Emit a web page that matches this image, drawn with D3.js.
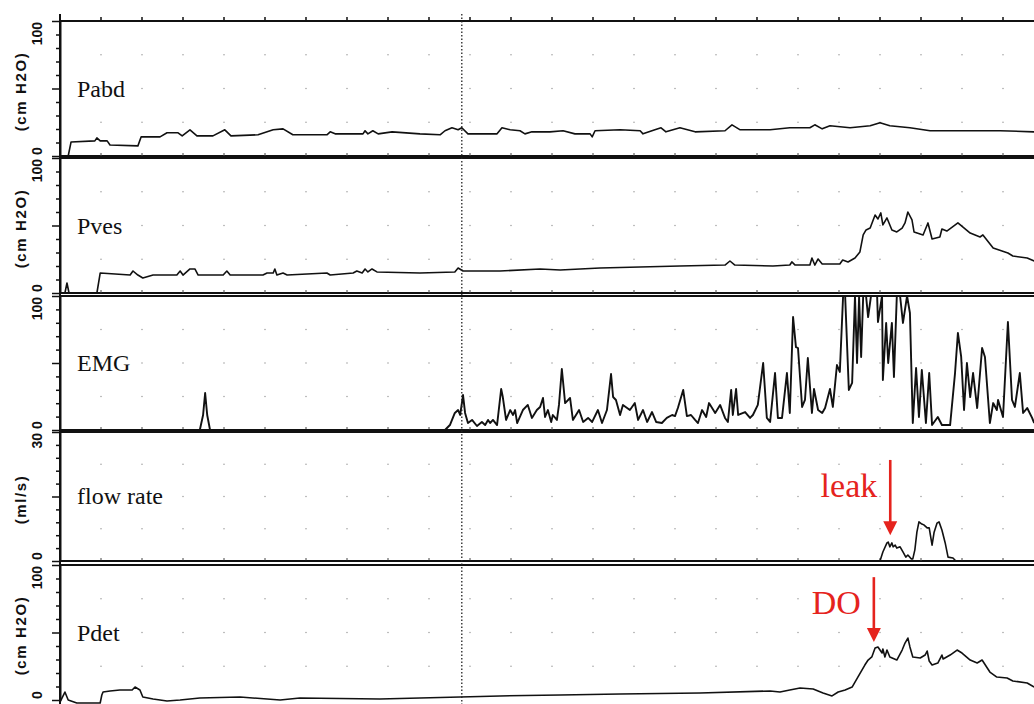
<!DOCTYPE html>
<html>
<head>
<meta charset="utf-8">
<script src="https://cdn.jsdelivr.net/npm/d3@7"></script>
<style>
  body { margin: 0; background: #fff; }
  svg { display: block; }
</style>
</head>
<body>
<script>
// traces, [time (s), value]
const pabdData = [[0,0],[2.0,0],[2.7,10.4],[8.5,11.2],[9.0,13.4],[9.8,11.2],[11.5,11.2],[12.2,8.2],[19.0,7.5],[19.8,14.2],[24.4,14.2],[26.1,17.2],[28.8,17.2],[29.8,14.9],[31.7,19.4],[33.4,14.9],[37.3,14.9],[40.2,19.4],[41.7,14.9],[48.3,15.7],[52.0,19.4],[54.4,20.1],[56.8,15.7],[65.1,15.7],[65.9,17.9],[67.1,16.4],[73.9,16.4],[74.4,18.7],[75.1,16.4],[76.3,18.7],[77.6,16.4],[81.0,17.9],[87.8,16.4],[92.7,15.7],[93.9,18.7],[95.6,20.9],[97.1,19.4],[98.0,20.9],[99.5,16.4],[106.6,16.4],[107.8,20.9],[109.8,19.4],[112.2,18.7],[113.4,16.4],[115.1,17.9],[119.5,17.9],[122.7,18.7],[125.6,16.4],[129.3,16.4],[129.8,14.2],[130.5,18.7],[136.6,19.4],[141.5,18.7],[142.2,16.4],[145.1,19.4],[146.6,20.9],[147.8,17.9],[151.2,20.9],[154.9,17.9],[162.2,18.7],[163.9,23.1],[165.9,19.4],[173.2,19.4],[178.0,20.9],[182.9,20.9],[184.1,23.1],[185.9,20.1],[187.8,22.4],[192.7,20.9],[197.6,22.4],[200.0,24.6],[202.4,22.4],[207.3,20.9],[212.2,18.7],[229.3,18.7],[237.6,17.9]];

const pvesData = [[0,0],[1.2,0],[1.7,7.4],[2.2,0],[9.0,0],[9.8,14.8],[17.1,13.3],[17.8,16.3],[19.0,13.3],[20.2,11.1],[22.7,13.3],[28.5,13.3],[29.3,16.3],[30.0,13.3],[31.7,17.8],[32.9,17.8],[33.7,13.3],[39.8,13.3],[40.7,16.3],[41.5,13.3],[49.5,13.3],[50.5,14.8],[52.0,14.8],[52.4,17.8],[52.9,13.3],[54.4,14.8],[55.4,13.3],[65.1,14.8],[65.9,13.3],[71.5,14.8],[72.4,16.3],[73.7,14.8],[74.4,17.8],[75.1,15.6],[76.1,17.8],[77.3,15.6],[87.8,14.8],[96.3,15.6],[97.1,18.5],[98.3,16.3],[107.3,16.3],[117.1,17.8],[122.0,17.0],[131.7,18.5],[151.2,20.0],[162.2,20.7],[163.4,23.7],[164.6,20.7],[173.9,20.0],[178.0,20.7],[178.5,23.0],[179.3,20.7],[182.9,20.7],[183.4,25.9],[184.1,20.7],[184.9,25.2],[185.9,21.5],[190.2,21.5],[190.9,24.4],[192.2,23.0],[193.9,25.9],[195.1,30.4],[195.9,43.0],[196.6,46.7],[197.6,48.1],[198.8,57.8],[199.5,54.8],[200.2,59.3],[200.7,50.4],[201.7,55.6],[202.9,46.7],[204.1,45.2],[205.4,48.1],[206.1,51.9],[206.8,60.0],[207.8,54.1],[208.3,45.2],[210.5,43.0],[211.7,51.9],[212.7,40.0],[214.6,41.5],[215.1,47.4],[216.3,45.9],[219.0,51.9],[222.0,44.4],[224.4,41.5],[225.1,43.0],[227.6,33.3],[231.2,29.6],[232.4,27.4],[235.9,25.9],[237.6,23.7]];

const emgData = [[0,0],[34.1,0],[34.9,11.2],[35.4,27.6],[35.9,11.2],[36.6,0],[93.9,0],[95.1,3.7],[96.3,12.7],[97.1,14.9],[97.6,11.2],[98.3,26.1],[98.8,12.7],[99.5,5.2],[100.5,7.5],[101.7,3.0],[102.9,6.0],[103.7,3.7],[104.4,7.5],[104.9,5.2],[105.6,7.5],[106.6,3.7],[107.6,30.6],[108.0,24.6],[108.8,7.5],[109.8,14.9],[110.5,11.2],[111.0,14.9],[111.5,5.2],[112.9,14.9],[114.1,18.7],[115.1,9.0],[116.3,14.9],[117.1,17.2],[117.8,23.9],[118.3,9.7],[119.0,14.9],[119.8,6.0],[120.2,11.2],[121.2,7.5],[121.7,18.7],[122.4,45.5],[123.2,20.1],[124.4,23.9],[125.1,7.5],[126.6,14.9],[127.6,6.0],[128.8,9.0],[129.8,6.0],[131.2,14.9],[132.2,5.2],[133.4,14.9],[134.4,41.8],[134.9,24.6],[135.6,22.4],[136.6,11.2],[137.3,18.7],[139.0,14.9],[140.2,20.1],[141.0,7.5],[142.2,14.9],[143.2,6.0],[144.4,13.4],[145.4,6.0],[146.8,5.2],[148.0,9.0],[149.3,11.2],[150.0,10.4],[150.7,16.4],[152.0,29.9],[152.9,10.4],[153.9,11.2],[154.9,7.5],[155.6,5.2],[156.6,14.9],[157.6,9.7],[158.3,20.1],[159.8,12.7],[161.0,18.7],[162.2,9.0],[162.9,6.0],[163.7,29.9],[164.1,11.2],[164.9,30.6],[165.4,11.2],[167.1,13.4],[168.3,9.0],[169.0,11.2],[170.2,18.7],[171.5,50.0],[172.4,9.0],[173.2,6.0],[174.4,42.5],[175.1,9.0],[176.1,9.0],[177.3,42.5],[178.0,12.7],[178.8,84.3],[179.5,61.9],[180.0,61.2],[181.0,17.2],[181.7,22.4],[182.4,53.7],[183.4,12.7],[183.9,30.6],[184.9,14.9],[185.9,12.7],[186.6,16.4],[187.8,30.6],[188.5,17.2],[189.5,48.5],[190.2,43.3],[191.0,100],[191.5,100],[192.4,29.9],[193.2,35.1],[193.9,100],[194.4,50.0],[194.9,99.3],[195.4,54.5],[195.9,100],[196.6,100],[197.1,84.3],[197.8,100],[199.3,100],[199.5,80.6],[200.5,100],[200.7,37.3],[201.5,79.9],[202.0,50.0],[202.9,79.9],[203.4,39.6],[204.1,100],[204.9,100],[205.6,79.9],[206.6,100],[207.3,87.3],[208.0,5.2],[208.8,46.3],[209.5,9.7],[210.2,44.8],[211.2,5.2],[212.0,42.5],[212.7,3.7],[214.1,9.7],[215.1,3.7],[217.1,3.7],[218.3,42.5],[219.0,72.4],[219.8,54.5],[220.5,14.9],[221.2,50.0],[222.0,24.6],[222.7,42.5],[223.7,16.4],[224.9,61.2],[225.6,54.5],[226.8,5.2],[227.6,20.1],[228.5,14.9],[228.8,22.4],[230.0,9.7],[231.2,80.6],[232.2,22.4],[232.9,17.2],[234.1,42.5],[234.9,12.7],[235.9,16.4],[237.1,9.0],[237.6,5.2]];

const flowData = [[0,0],[200.0,0],[200.7,2.1],[201.7,4.2],[202.0,4.4],[202.4,3.3],[202.9,4.2],[203.2,3.3],[203.7,3.7],[204.1,3.0],[204.9,3.3],[205.6,2.1],[206.3,0.9],[206.8,1.4],[207.6,0.5],[208.0,0.5],[208.5,2.6],[209.0,6.7],[209.5,9.1],[210.2,8.6],[210.7,8.4],[211.5,7.7],[212.0,7.7],[212.7,3.7],[213.2,6.7],[213.9,8.8],[214.4,9.1],[215.1,7.2],[215.9,4.2],[216.6,0.9],[217.8,0.7],[218.5,0],[237.6,0]];

const pdetData = [[0,-1.5],[1.2,5.9],[2.0,0],[4.1,-2.2],[9.8,-2.2],[10.2,3.7],[10.5,5.9],[12.2,6.7],[14.6,7.4],[17.6,7.4],[18.3,9.6],[19.5,7.4],[20.2,2.2],[22.7,0.7],[26.1,-0.7],[29.3,0],[34.1,1.5],[43.9,2.2],[53.7,0],[58.5,1.5],[78.0,0.7],[97.6,2.2],[107.3,3.0],[122.0,3.7],[136.6,4.4],[156.1,5.2],[173.2,6.7],[175.6,5.9],[178.0,7.4],[180.5,8.9],[183.7,8.1],[186.1,5.2],[188.3,3.0],[189.8,5.9],[191.5,7.4],[193.2,9.6],[194.6,17.0],[196.3,25.9],[197.1,29.6],[198.0,31.9],[198.8,38.5],[199.5,39.3],[200.0,37.0],[200.5,34.8],[200.7,37.8],[201.2,31.9],[201.7,37.0],[202.4,31.9],[204.1,29.6],[205.4,37.0],[206.1,42.2],[206.8,45.9],[207.3,39.3],[208.0,31.9],[209.8,31.1],[211.0,33.3],[211.5,36.3],[212.0,28.9],[212.7,25.9],[214.1,27.4],[215.1,33.3],[215.4,30.4],[217.1,33.3],[218.8,37.0],[220.0,34.8],[222.0,29.6],[223.7,27.4],[224.9,29.6],[226.8,20.7],[228.5,17.0],[231.0,16.3],[232.4,14.1],[235.9,12.6],[237.6,9.6]];

const channelNames = ["Pabd", "Pves", "EMG", "flow rate", "Pdet"];
const channelUnits = ["(cm H2O)", "(cm H2O)", "", "(ml/s)", "(cm H2O)"];
const channelMax = [100, 100, 100, 30, 100];
const topLabels = ["100", "100", "100", "30", "100"];
const bottomLabels = ["0", "0", "0", "0", "0"];
const channelData = [pabdData, pvesData, emgData, flowData, pdetData];

const timeTicks = d3.range(0, 241, 10);
const markerTime = 98;   // dotted vertical marker
const notes = [
    {text: "leak", channel: 3, time: 202.5, from: 23.5, to: 6},
    {text: "DO", channel: 4, time: 198.5, from: 91, to: 43}
];

// layout
const width = 1034, height = 704;
const axisX = 60;
const bands = [[21, 156], [158, 293], [296, 430], [432, 561], [565, 700]];
const red = "#e5231d";
const sans = "'Liberation Sans', Arial, sans-serif";
const serif = "'Liberation Serif', 'Times New Roman', serif";

const svg = d3.select("body").append("svg")
    .attr("width", width)
    .attr("height", height);

svg.append("rect").attr("width", width).attr("height", height).attr("fill", "#fff");

const x = d3.scaleLinear().domain([0, 240]).range([axisX, axisX + 984]);

svg.append("defs").selectAll("clipPath")
    .data(bands)
    .join("clipPath")
    .attr("id", (d, i) => "clip" + i)
    .append("rect")
    .attr("x", axisX)
    .attr("y", d => d[0] - 3)
    .attr("width", width - axisX)
    .attr("height", d => d[1] - d[0] + 8);

channelNames.forEach((name, i) => {
    const [top, bottom] = bands[i];
    const y = d3.scaleLinear().domain([0, channelMax[i]]).range([bottom, top]);
    const g = svg.append("g");

    // faint dot grid
    const dots = [];
    timeTicks.forEach(t => [0.25, 0.5, 0.75].forEach(f => dots.push([t, f * channelMax[i]])));
    g.append("g").selectAll("circle")
        .data(dots)
        .join("circle")
        .attr("cx", d => x(d[0]))
        .attr("cy", d => y(d[1]))
        .attr("r", 0.8)
        .attr("fill", "#a5a5a5");

    // left axis, major ticks at 0, half and max
    const ax = g.append("g")
        .attr("transform", `translate(${axisX},0)`)
        .call(d3.axisLeft(y)
            .tickValues(d3.range(0, 11).map(k => k * channelMax[i] / 10))
            .tickSize(4)
            .tickSizeOuter(0)
            .tickFormat(""));
    ax.select(".domain").attr("stroke", "#111").attr("stroke-width", 2);
    ax.selectAll(".tick line")
        .attr("stroke", "#111")
        .attr("stroke-width", 1.5)
        .attr("x2", (d) => (d === 0 || d === channelMax[i] || d === channelMax[i] / 2) ? -8 : -4);

    // panel borders
    g.selectAll("line.border")
        .data(i === 4 ? [top] : [top, bottom])
        .join("line")
        .attr("class", "border")
        .attr("x1", axisX).attr("x2", width)
        .attr("y1", d => d).attr("y2", d => d)
        .attr("stroke", "#111")
        .attr("stroke-width", 2.2);

    // small time ticks along the bottom border
    if (i < 4) {
        g.append("g").selectAll("line")
            .data(timeTicks)
            .join("line")
            .attr("x1", d => x(d)).attr("x2", d => x(d))
            .attr("y1", bottom).attr("y2", bottom - 3)
            .attr("stroke", "#444")
            .attr("stroke-width", 1);
    }

    // trace
    const line = d3.line()
        .x(d => x(d[0]))
        .y(d => y(Math.min(d[1], channelMax[i])));
    g.append("path")
        .datum(channelData[i])
        .attr("clip-path", `url(#clip${i})`)
        .attr("d", line)
        .attr("fill", "none")
        .attr("stroke", "#111")
        .attr("stroke-width", i === 2 ? 1.9 : 1.6)
        .attr("stroke-linejoin", "round");

    // channel name
    g.append("text")
        .attr("x", 77)
        .attr("y", top + 0.56 * (bottom - top))
        .attr("font-family", serif)
        .attr("font-size", "24px")
        .attr("fill", "#111")
        .text(name);

    // rotated scale labels
    g.append("text")
        .attr("transform", `translate(42,${top + 1}) rotate(-90)`)
        .attr("text-anchor", "end")
        .attr("font-family", sans)
        .attr("font-weight", "bold")
        .attr("font-size", "14px")
        .attr("fill", "#111")
        .text(topLabels[i]);

    g.append("text")
        .attr("transform", `translate(42,${bottom - 1}) rotate(-90)`)
        .attr("text-anchor", "start")
        .attr("font-family", sans)
        .attr("font-weight", "bold")
        .attr("font-size", "14px")
        .attr("fill", "#111")
        .text(bottomLabels[i]);

    if (channelUnits[i]) {
        g.append("text")
            .attr("transform", `translate(26,${(top + bottom) / 2 + 3}) rotate(-90)`)
            .attr("text-anchor", "middle")
            .attr("font-family", sans)
            .attr("font-weight", "bold")
            .attr("font-size", "15px")
            .attr("letter-spacing", "1.6px")
            .attr("fill", "#111")
            .text(channelUnits[i]);
    }
});

// time ticks on the top border
svg.append("g").selectAll("line")
    .data(timeTicks)
    .join("line")
    .attr("x1", d => x(d)).attr("x2", d => x(d))
    .attr("y1", bands[0][0]).attr("y2", bands[0][0] - 4)
    .attr("stroke", "#111")
    .attr("stroke-width", 1.5);

// left axis running full height
svg.append("line")
    .attr("x1", axisX).attr("x2", axisX)
    .attr("y1", 14).attr("y2", height)
    .attr("stroke", "#111")
    .attr("stroke-width", 2);

// dotted marker
svg.append("line")
    .attr("x1", x(markerTime)).attr("x2", x(markerTime))
    .attr("y1", 14).attr("y2", height)
    .attr("stroke", "#222")
    .attr("stroke-width", 1.3)
    .attr("stroke-dasharray", "1.5,2");

// red annotations
notes.forEach(n => {
    const [top, bottom] = bands[n.channel];
    const y = d3.scaleLinear().domain([0, channelMax[n.channel]]).range([bottom, top]);
    const ax = x(n.time), y1 = y(n.from), y2 = y(n.to);
    svg.append("line")
        .attr("x1", ax).attr("x2", ax)
        .attr("y1", y1).attr("y2", y2 - 12)
        .attr("stroke", red)
        .attr("stroke-width", 2.6);
    svg.append("path")
        .attr("d", `M${ax - 7},${y2 - 14} L${ax + 7},${y2 - 14} L${ax},${y2} Z`)
        .attr("fill", red);
    svg.append("text")
        .attr("x", ax - 13)
        .attr("y", y1 + 37)
        .attr("text-anchor", "end")
        .attr("font-family", serif)
        .attr("font-size", "34px")
        .attr("fill", red)
        .text(n.text);
});
</script>
</body>
</html>
